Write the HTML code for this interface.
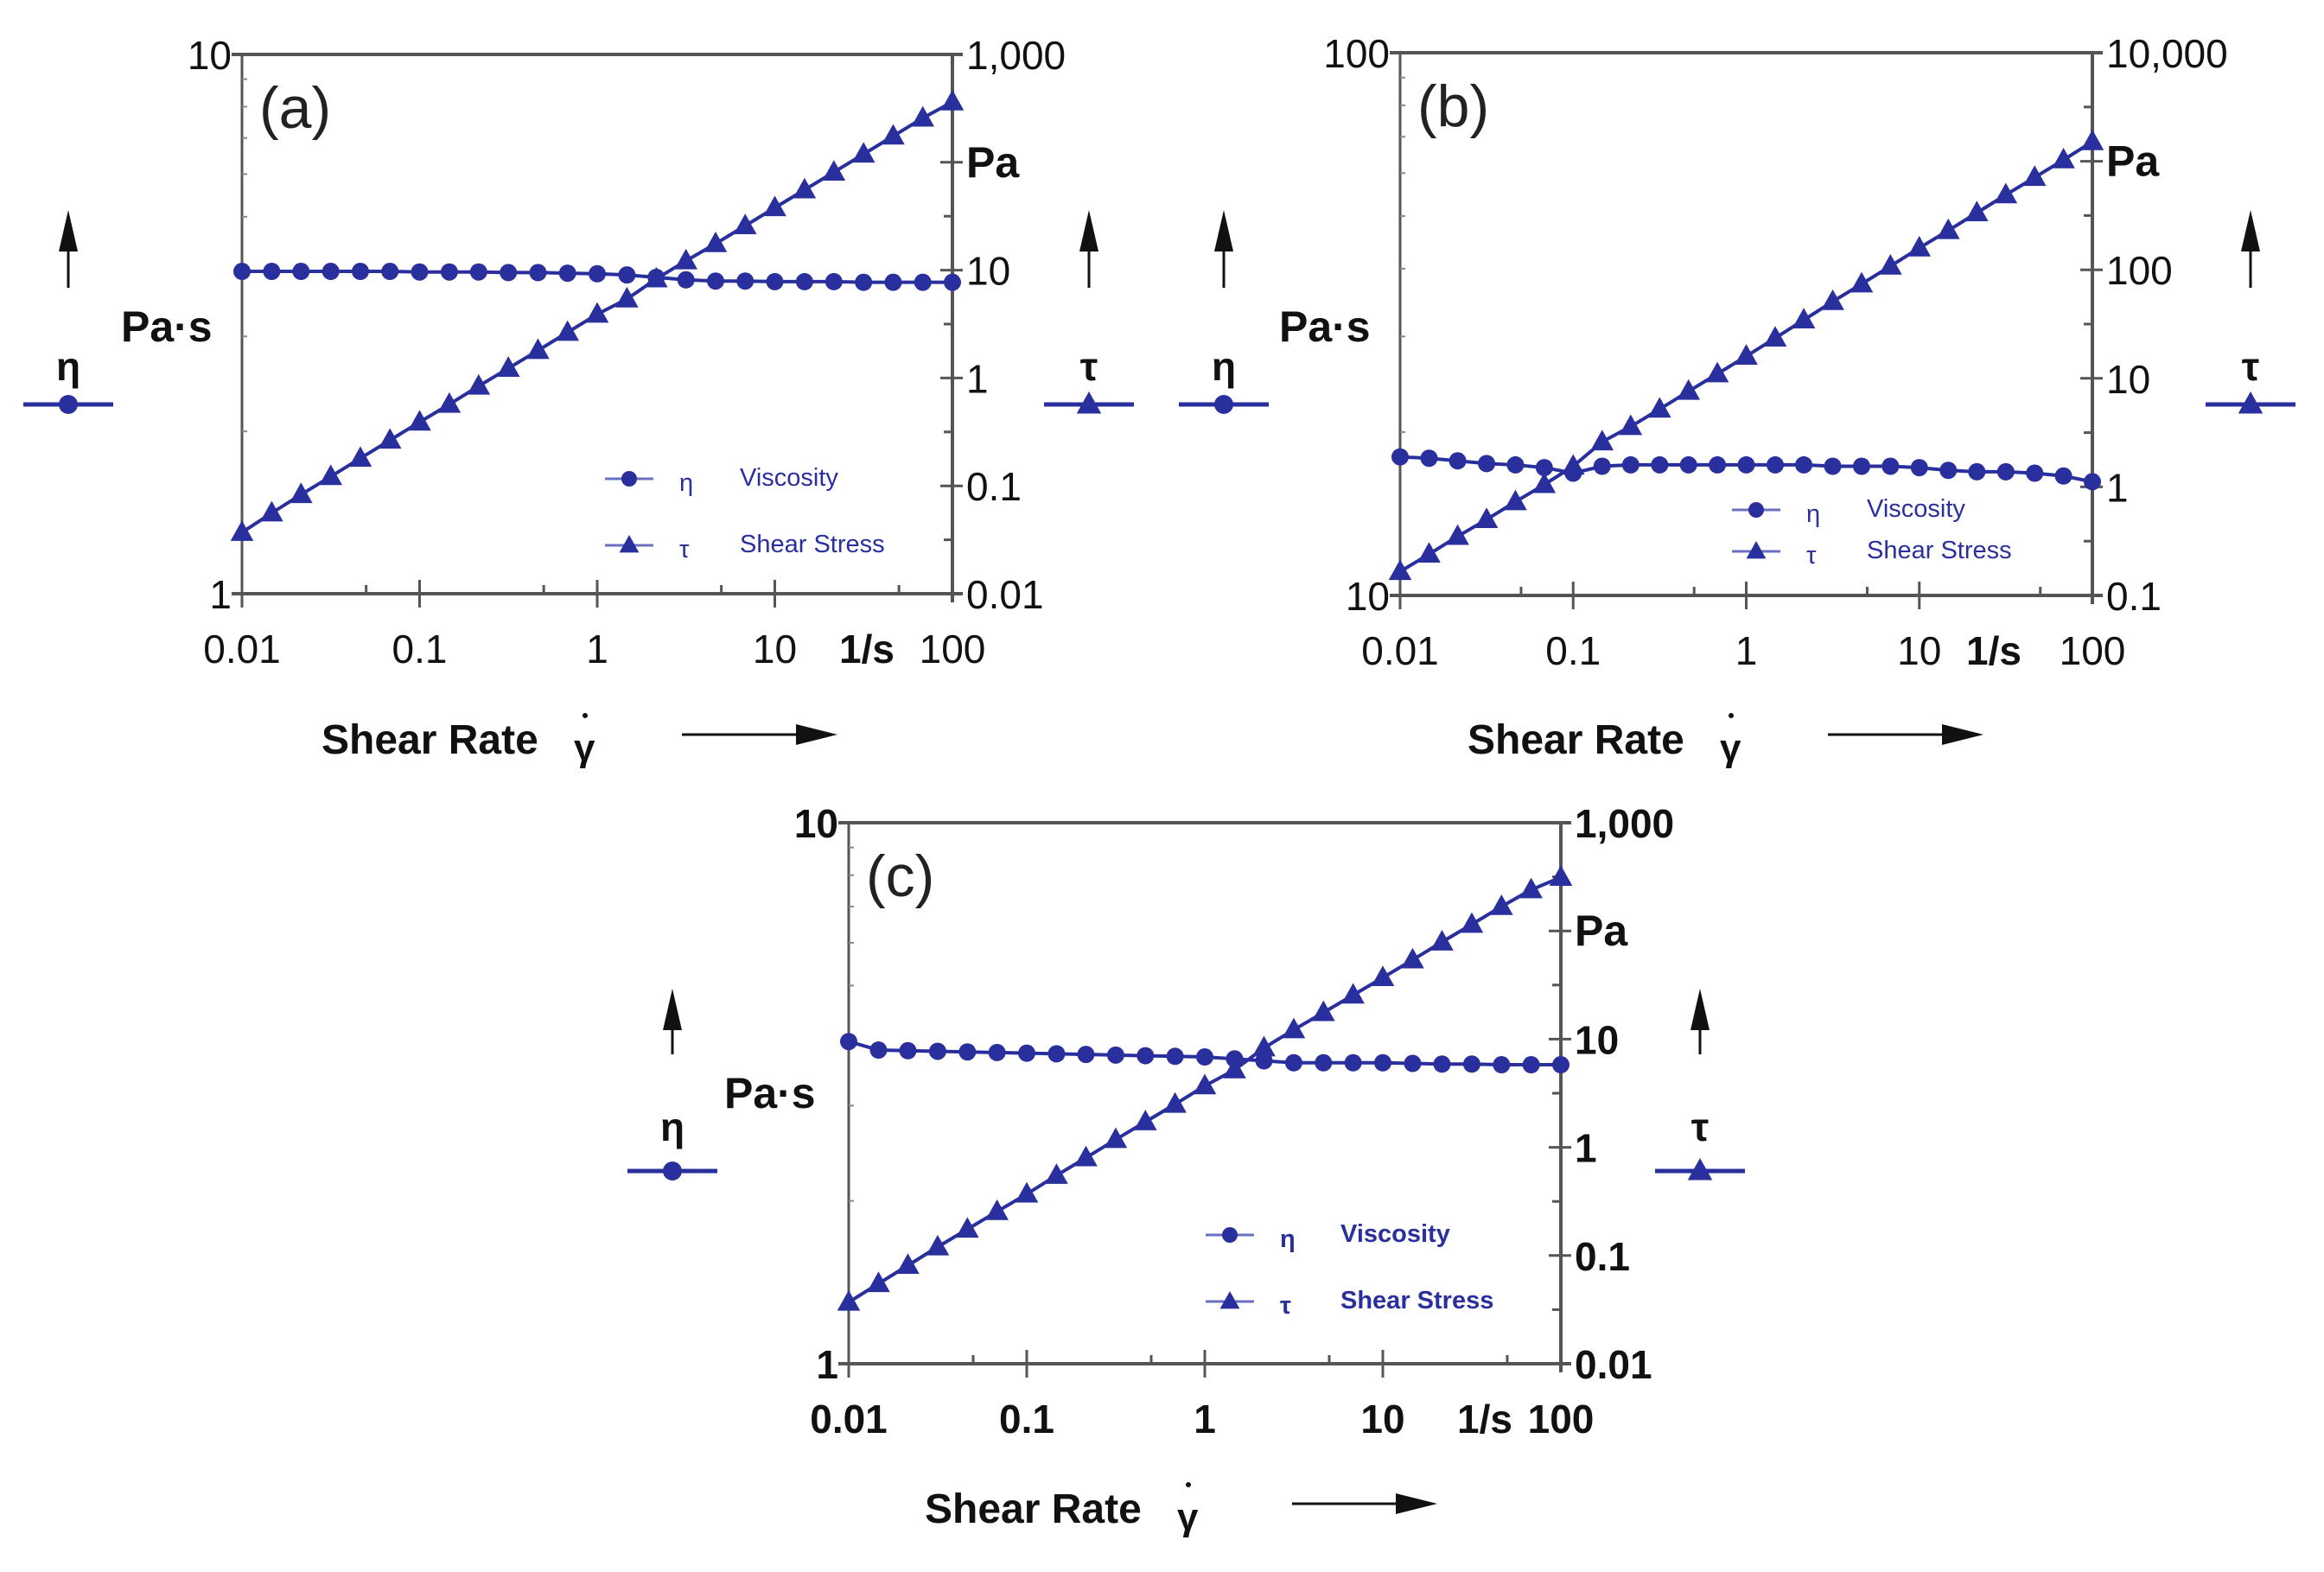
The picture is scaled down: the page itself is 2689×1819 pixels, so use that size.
<!DOCTYPE html>
<html><head><meta charset="utf-8"><style>
html,body{margin:0;padding:0;background:#fff;}
svg{display:block;}
text{font-family:"Liberation Sans",sans-serif;}
</style></head><body>
<svg id="fig" width="2689" height="1819" viewBox="0 0 2689 1819" xmlns="http://www.w3.org/2000/svg"></svg>
<script>
// shared shear rate values (1/s)
const shearRate = [0.01,0.0147,0.0215,0.0316,0.0464,0.0681,0.1,0.147,0.215,0.316,0.464,0.681,1,1.47,2.15,3.16,4.64,6.81,10,14.7,21.5,31.6,46.4,68.1,100];
// panel (a)
const etaA = [3.96,3.96,3.96,3.96,3.96,3.96,3.95,3.95,3.95,3.94,3.94,3.93,3.92,3.9,3.86,3.82,3.8,3.8,3.79,3.79,3.79,3.78,3.78,3.78,3.78];
const tauA = [0.037,0.056,0.083,0.122,0.18,0.265,0.39,0.57,0.84,1.23,1.8,2.65,3.9,5.4,8.3,12.2,17.6,25.8,37.9,55.5,81,119,175,257,363];
// panel (b)
const etaB = [18.0,17.9,17.7,17.5,17.4,17.2,16.8,17.3,17.4,17.4,17.4,17.4,17.4,17.4,17.4,17.3,17.3,17.3,17.2,17.0,16.9,16.9,16.8,16.6,16.2];
const tauB = [0.166,0.24,0.35,0.5,0.73,1.05,1.55,2.6,3.6,5.2,7.6,11,16,23.5,34.5,51,74,108,159,230,335,490,710,1030,1514];
// panel (c)
const etaC = [3.94,3.8,3.79,3.78,3.77,3.76,3.75,3.74,3.73,3.72,3.71,3.7,3.69,3.66,3.63,3.6,3.6,3.6,3.6,3.59,3.58,3.58,3.57,3.57,3.57];
const tauC = [0.037,0.055,0.081,0.12,0.175,0.255,0.37,0.55,0.8,1.18,1.72,2.5,3.7,5.2,8.3,12.2,17.6,25.5,37,54,79,115,168,240,313];
// tick label arrays
const xTickLabels = ["0.01","0.1","1","10","100"];
const rightLabelsA = ["0.01","0.1","1","10","Pa","1,000"];
const rightLabelsB = ["0.1","1","10","100","Pa","10,000"];

const NS="http://www.w3.org/2000/svg";
const svg=document.getElementById('fig');
const BLUE="#2a2f9e";
function mk(tag,attrs,parent){const e=document.createElementNS(NS,tag);for(const k in attrs)e.setAttribute(k,attrs[k]);(parent||svg).appendChild(e);return e;}
function txt(s,x,y,size,anchor,weight,parent,fill){const t=mk('text',{x:x,y:y,'font-size':size,'text-anchor':anchor||'start','font-weight':weight||'normal',fill:fill||'#111'},parent);t.textContent=s;return t;}
function circ(x,y,r,g){return mk('circle',{cx:x,cy:y,r:r,fill:BLUE},g);}
function tri(x,y,s,g){return mk('polygon',{points:`${x},${y-s} ${x-s*0.95},${y+s*0.7} ${x+s*0.95},${y+s*0.7}`,fill:BLUE},g);}

function panel(o){
  const g=mk('g',{});
  
  
  const L=o.L,R=o.R,T=o.T,B=o.B;
  const xs=v=>L+(Math.log10(v)+2)/4*(R-L);
  const yl=v=>B-(Math.log10(v)-o.lmin)*(B-T);
  const yr=v=>B-(Math.log10(v)-o.rmin)/5*(B-T);
  const fr=mk('g',{},g);
  mk('line',{x1:L,y1:T,x2:R+12,y2:T,stroke:'#555','stroke-width':4},fr);
  mk('line',{x1:L-12,y1:B,x2:R+12,y2:B,stroke:'#555','stroke-width':4},fr);
  mk('line',{x1:L,y1:T,x2:L,y2:B,stroke:'#555','stroke-width':3},fr);
  mk('line',{x1:L-12,y1:T,x2:L,y2:T,stroke:'#555','stroke-width':4},fr);
  mk('line',{x1:R,y1:T,x2:R,y2:B+10,stroke:'#555','stroke-width':4},fr);
  for(let d=0;d<4;d++){
    const base=Math.pow(10,d-2);
    mk('line',{x1:xs(base),y1:B-16,x2:xs(base),y2:B+16,stroke:'#555','stroke-width':3},fr);
    mk('line',{x1:xs(base*5),y1:B-10,x2:xs(base*5),y2:B,stroke:'#555','stroke-width':3},fr);
  }
  for(let m=2;m<10;m++){ const y=B-Math.log10(m)*(B-T); mk('line',{x1:L,y1:y,x2:L+6,y2:y,stroke:'#888','stroke-width':2},fr);}
  for(let d=0;d<=5;d++){ const y=B-d/5*(B-T); mk('line',{x1:R-14,y1:y,x2:R+12,y2:y,stroke:'#555','stroke-width':3},fr);
    if(d<5){ mk('line',{x1:R-10,y1:B-(d+0.5)/5*(B-T),x2:R,y2:B-(d+0.5)/5*(B-T),stroke:'#555','stroke-width':3},fr);} }
  const fs=o.fs, fw=o.fw;
  txt(o.lTop,L-12,T+17,fs,'end',fw,g); txt(o.lBot,L-12,B+17,fs,'end',fw,g);
  o.rLabels.forEach((s,i)=>{const y=B-i/5*(B-T); const t=txt(s,R+16,y+17,s=='Pa'?fs+4:fs,'start',s=='Pa'?'bold':fw,g); });
  xTickLabels.forEach((s,i)=>{const t=txt(s,xs(Math.pow(10,i-2)),B+80,fs,'middle',fw,g);});
  txt('1/s',o.unitX,B+80,fs,'middle','bold',g);
  txt(o.label,L+20,T+85,68,'start','normal',g,'#222');
  const sg=mk('g',{},g);
  mk('polyline',{points:shearRate.map((x,i)=>xs(x)+','+yl(o.eta[i])).join(' '),fill:'none',stroke:BLUE,'stroke-width':4},sg);
  shearRate.forEach((x,i)=>{const c=circ(xs(x),yl(o.eta[i]),10,sg);});
  const tg=mk('g',{},g);
  mk('polyline',{points:shearRate.map((x,i)=>xs(x)+','+yr(o.tau[i])).join(' '),fill:'none',stroke:BLUE,'stroke-width':4},tg);
  shearRate.forEach((x,i)=>{const t=tri(xs(x),yr(o.tau[i]),14,tg);});
  const lg=mk('g',{},g);
  const lx=o.legX, ly=o.legY, lfs=o.legFs, dy=o.legDy;
  mk('line',{x1:lx-28,y1:ly,x2:lx+28,y2:ly,stroke:'#6a70c0','stroke-width':3},lg); circ(lx,ly,9,lg);
  txt('η',lx+58,ly+14,lfs,'start',o.legW,lg,BLUE); txt('Viscosity',lx+128,ly+8,lfs,'start',o.legW,lg,BLUE);
  mk('line',{x1:lx-28,y1:ly+dy,x2:lx+28,y2:ly+dy,stroke:'#6a70c0','stroke-width':3},lg); tri(lx,ly+dy,12,lg);
  txt('τ',lx+58,ly+dy+14,lfs,'start',o.legW,lg,BLUE); txt('Shear Stress',lx+128,ly+dy+8,lfs,'start',o.legW,lg,BLUE);
  const at=mk('g',{},g);
  function upArrow(x,y1,y2){mk('line',{x1:x,y1:y1+40,x2:x,y2:y2,stroke:'#111','stroke-width':3},at);mk('polygon',{points:`${x},${y1} ${x-11},${y1+48} ${x+11},${y1+48}`,fill:'#111'},at);}
  upArrow(o.etaX,o.arrY1,o.arrY2); upArrow(o.tauX,o.arrY1,o.arrY2);
  txt('Pa·s',o.pasX,o.pasY,50,'start','bold',at);
  txt('η',o.etaX,o.symY,46,'middle','bold',at); txt('τ',o.tauX,o.symY,46,'middle','bold',at);
  mk('line',{x1:o.etaX-52,y1:o.legSymY,x2:o.etaX+52,y2:o.legSymY,stroke:BLUE,'stroke-width':5},at); circ(o.etaX,o.legSymY,11,at);
  mk('line',{x1:o.tauX-52,y1:o.legSymY,x2:o.tauX+52,y2:o.legSymY,stroke:BLUE,'stroke-width':5},at); tri(o.tauX,o.legSymY,15,at);
  const xt=txt('Shear Rate ',o.srX,o.srY,48,'start','bold',at); 
  txt('γ',o.srX+292,o.srY+8,44,'start','bold',at); mk('circle',{cx:o.srX+305,cy:o.srY-44,r:3,fill:'#111'},at);
  mk('line',{x1:o.xarX1,y1:o.srY-22,x2:o.xarX2-40,y2:o.srY-22,stroke:'#111','stroke-width':3},at);
  mk('polygon',{points:`${o.xarX2},${o.srY-22} ${o.xarX2-48},${o.srY-34} ${o.xarX2-48},${o.srY-10}`,fill:'#111'},at);
}

panel({id:'a',L:280,R:1102,T:63,B:687,lmin:0,rmin:-2,eta:etaA,tau:tauA,lTop:'10',lBot:'1',rLabels:rightLabelsA,unitX:1003,label:'(a)',fs:46,fw:'normal',
  legX:728,legY:554,legDy:77,legFs:29,legW:'normal',etaX:79,tauX:1260,arrY1:243,arrY2:333,pasX:140,pasY:395,symY:440,legSymY:468,srX:372,srY:872,xarX1:789,xarX2:969});
panel({id:'b',L:1620,R:2421,T:61,B:689,lmin:1,rmin:-1,eta:etaB,tau:tauB,lTop:'100',lBot:'10',rLabels:rightLabelsB,unitX:2307,label:'(b)',fs:46,fw:'normal',
  legX:2032,legY:590,legDy:48,legFs:29,legW:'normal',etaX:1416,tauX:2604,arrY1:243,arrY2:333,pasX:1480,pasY:395,symY:440,legSymY:468,srX:1698,srY:872,xarX1:2115,xarX2:2295});
panel({id:'c',L:982,R:1806,T:952,B:1578,lmin:0,rmin:-2,eta:etaC,tau:tauC,lTop:'10',lBot:'1',rLabels:rightLabelsA,unitX:1718,label:'(c)',fs:46,fw:'bold',
  legX:1423,legY:1429,legDy:77,legFs:29,legW:'bold',etaX:778,tauX:1967,arrY1:1144,arrY2:1220,pasX:838,pasY:1282,symY:1320,legSymY:1355,srX:1070,srY:1762,xarX1:1495,xarX2:1663});
</script>
</body></html>
